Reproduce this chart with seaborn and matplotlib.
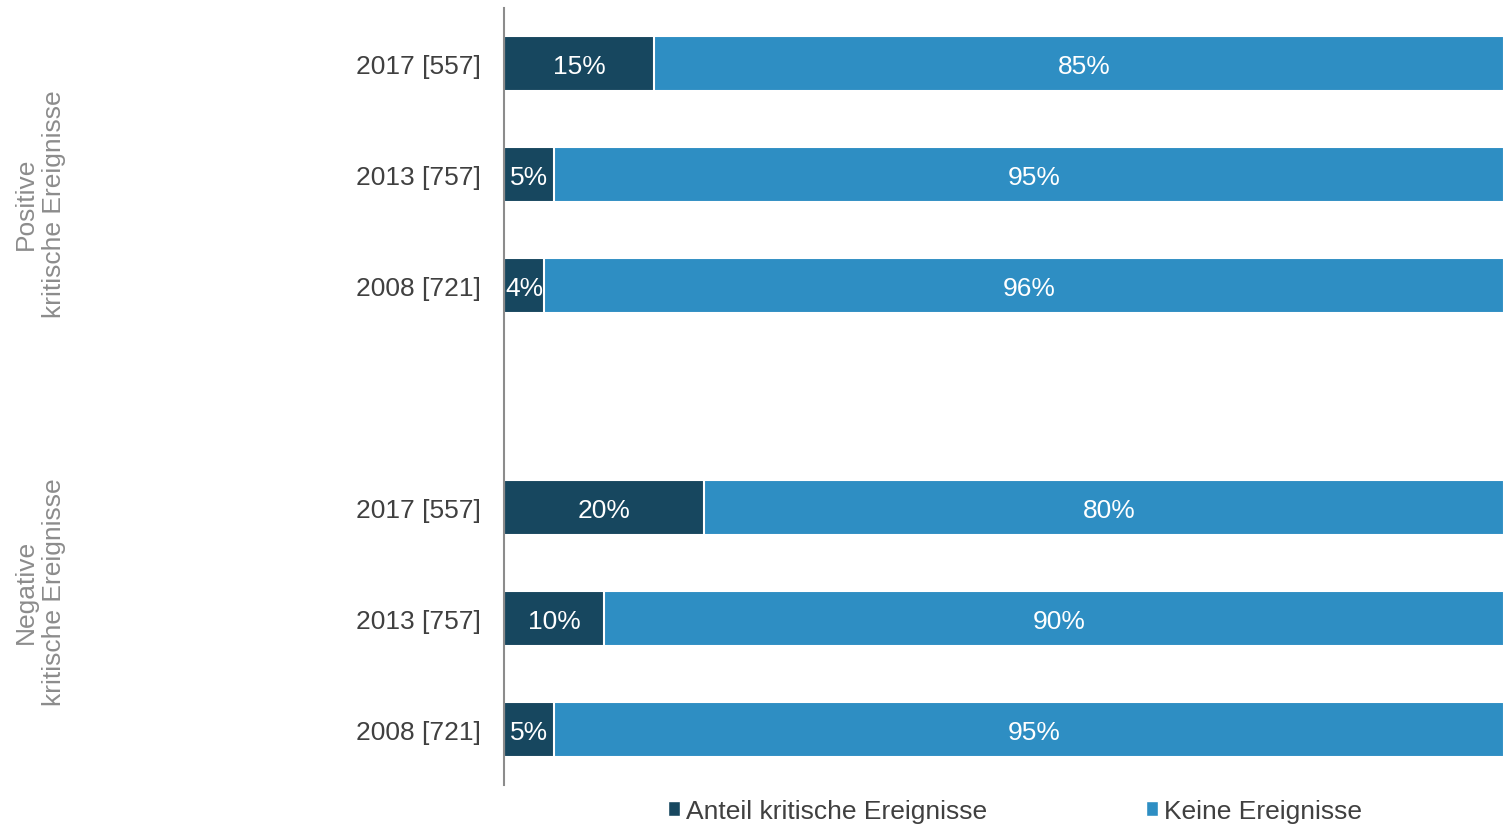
import pandas as pd
import seaborn as sns
import matplotlib.pyplot as plt
from matplotlib.patches import Patch

# ── Data ──────────────────────────────────────────────────────────────────────
groups = ["Positive\nkritische Ereignisse", "Negative\nkritische Ereignisse"]
row_labels = ["2017 [557]", "2013 [757]", "2008 [721]"]
positive_share = [15, 5, 4]
negative_share = [20, 10, 5]
series_names = ["Anteil kritische Ereignisse", "Keine Ereignisse"]

dark = "#17475f"
light = "#2e8ec3"

keys = ["P0", "P1", "P2", "gap", "N0", "N1", "N2"]
shares = positive_share + [None] + negative_share
df = pd.DataFrame({"key": keys, "share": shares})
df["rest"] = 100 - df["share"]
df["total"] = 100.0
df.loc[df["key"] == "gap", "total"] = None

# ── Plot ──────────────────────────────────────────────────────────────────────
sns.set_style("white")
plt.rcParams["font.family"] = ["Liberation Sans", "DejaVu Sans"]

fig = plt.figure(figsize=(15.03, 8.28), dpi=100)
ax = fig.add_axes([504 / 1503, 1 - 786 / 828, 1000 / 1503, 777 / 828])

sns.barplot(data=df, x="total", y="key", order=keys, orient="h",
            color=light, width=0.49, edgecolor="white", linewidth=1.5,
            saturation=1, ax=ax)
sns.barplot(data=df, x="share", y="key", order=keys, orient="h",
            color=dark, width=0.49, edgecolor="white", linewidth=1.5,
            saturation=1, ax=ax)

for i, k in enumerate(keys):
    s = df.loc[i, "share"]
    if pd.isna(s):
        continue
    r = 100 - s
    ax.text(s / 2, i, f"{s:.0f}%", ha="center", va="center_baseline",
            color="white", fontsize=19)
    ax.text(s + r / 2 + 0.5, i, f"{r:.0f}%", ha="center", va="center_baseline",
            color="white", fontsize=19)

ax.set_xlim(0, 100)
ax.set_ylim(6.5, -0.5)
ax.set_xticks([])
ax.set_yticks(range(len(keys)))
ax.set_yticklabels(row_labels + [""] + row_labels, fontsize=19, color="#404040")
ax.tick_params(axis="y", length=0, pad=17)
ax.set_xlabel("")
ax.set_ylabel("")
for side in ["top", "right", "bottom"]:
    ax.spines[side].set_visible(False)
ax.spines["left"].set_color("#8c8c8c")
ax.spines["left"].set_linewidth(1.5)

# group labels
fig.text(40 / 1503, 1 - 204 / 828, groups[0], rotation=90, ha="center",
         va="center", fontsize=19, color="#8c8c8c", multialignment="center")
fig.text(40 / 1503, 1 - 592 / 828, groups[1], rotation=90, ha="center",
         va="center", fontsize=19, color="#8c8c8c", multialignment="center")

handles = [Patch(facecolor=dark), Patch(facecolor=light)]
fig.legend(handles, series_names, loc="center", ncol=2,
           bbox_to_anchor=(1015 / 1503, 1 - 812 / 828), frameon=False,
           fontsize=19, handlelength=0.45, handleheight=0.5,
           handletextpad=0.25, columnspacing=6.0, labelcolor="#404040",
           borderpad=0, borderaxespad=0)

plt.savefig("out.png", dpi=100)
